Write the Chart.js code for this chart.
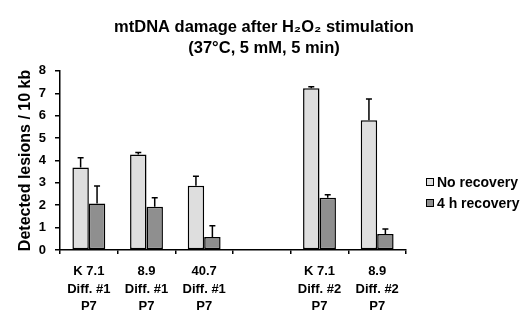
<!DOCTYPE html>
<html><head><meta charset="utf-8">
<script src="https://cdn.jsdelivr.net/npm/chart.js@4"></script>
<style>html,body{margin:0;padding:0;background:#fff}</style>
</head><body>
<canvas id="c" width="528" height="330" style="width:528px;height:330px;display:block"></canvas>
<script>
const categories = [["K 7.1","Diff. #1","P7"],["8.9","Diff. #1","P7"],["40.7","Diff. #1","P7"],"",["K 7.1","Diff. #2","P7"],["8.9","Diff. #2","P7"]];
const noRecovery = [3.69, 4.27, 2.87, null, 7.22, 5.79];
const noRecoveryErr = [0.43, 0.09, 0.42, null, 0.07, 0.96];
const recovery4h = [2.08, 1.93, 0.58, null, 2.33, 0.71];
const recovery4hErr = [0.78, 0.40, 0.50, null, 0.14, 0.23];
const yTicks = [0,1,2,3,4,5,6,7,8];
const seriesLabels = ["No recovery", "4 h recovery"];
const titleLines = ["mtDNA damage after H\u2082O\u2082 stimulation", "(37°C, 5 mM, 5 min)"];
const yTitle = "Detected lesions / 10 kb";

const FONT = "'Liberation Sans', Arial, Helvetica, sans-serif";
const LIGHT = "#dedede", DARK = "#8f8f8f";

const errorBars = {
  id: 'errorBars',
  afterDatasetsDraw(chart) {
    const ctx = chart.ctx, y = chart.scales.y;
    chart.data.datasets.forEach((ds, i) => {
      const meta = chart.getDatasetMeta(i);
      meta.data.forEach((bar, j) => {
        const v = ds.data[j], e = ds.errors[j];
        if (v == null || e == null) return;
        const top = y.getPixelForValue(v + e);
        ctx.save();
        ctx.strokeStyle = '#000'; ctx.lineWidth = 1.5;
        ctx.beginPath();
        ctx.moveTo(bar.x, bar.y); ctx.lineTo(bar.x, top);
        ctx.moveTo(bar.x - 3, top); ctx.lineTo(bar.x + 3, top);
        ctx.stroke();
        ctx.restore();
      });
    });
  }
};

// center the title over the whole canvas, not just the plot + axis region
const centerTitle = {
  id: 'centerTitle',
  afterLayout(chart) {
    const t = chart.titleBlock;
    if (t) { t.left = 0; t.right = chart.width; t.width = chart.width; }
  }
};

const sideLegend = {
  id: 'sideLegend',
  afterDraw(chart) {
    const ctx = chart.ctx, a = chart.chartArea;
    const x = a.right + 20;
    const ys = [182, 203];
    ctx.save();
    ctx.font = "bold 14px " + FONT;
    ctx.textBaseline = 'middle';
    ctx.textAlign = 'left';
    chart.data.datasets.forEach((ds, i) => {
      const yc = ys[i];
      ctx.fillStyle = ds.backgroundColor;
      ctx.fillRect(x, yc - 4, 8, 8);
      ctx.strokeStyle = '#000'; ctx.lineWidth = 1;
      ctx.strokeRect(x + 0.5, yc - 3.5, 7, 7);
      ctx.fillStyle = '#000';
      ctx.fillText(ds.label, x + 11, yc + 1);
    });
    ctx.restore();
  }
};

new Chart(document.getElementById('c'), {
  type: 'bar',
  data: {
    labels: categories,
    datasets: [
      { label: seriesLabels[0], data: noRecovery, errors: noRecoveryErr, backgroundColor: LIGHT, borderColor: '#000', borderWidth: 1.5, borderSkipped: false },
      { label: seriesLabels[1], data: recovery4h, errors: recovery4hErr, backgroundColor: DARK, borderColor: '#000', borderWidth: 1.5, borderSkipped: false }
    ]
  },
  options: {
    responsive: false,
    animation: false,
    devicePixelRatio: 1,
    layout: { padding: { left: 0, right: 122, top: 0, bottom: 0 } },
    datasets: { bar: { categoryPercentage: 0.57, barPercentage: 1 } },
    plugins: {
      legend: { display: false },
      tooltip: { enabled: false },
      title: {
        display: true, text: titleLines, color: '#000',
        font: { family: FONT, size: 16.5, weight: 'bold', lineHeight: 1.33 },
        padding: { top: 16, bottom: 11 }
      }
    },
    scales: {
      x: {
        afterFit(s) { s.height = 80; },
        grid: { offset: true, drawOnChartArea: false, drawTicks: true, tickLength: 4, color: '#000', lineWidth: 1.5 },
        border: { color: '#000', width: 1.5 },
        ticks: { color: '#000', padding: 9, maxRotation: 0, autoSkip: false, font: { family: FONT, size: 13, weight: 'bold', lineHeight: 1.35 } }
      },
      y: {
        min: yTicks[0], max: yTicks[yTicks.length - 1],
        afterFit(s) { s.width = 60; },
        afterBuildTicks(s) { s.ticks = yTicks.map(v => ({ value: v })); },
        grid: { drawOnChartArea: false, drawTicks: true, tickLength: 5, color: '#000', lineWidth: 1.5 },
        border: { color: '#000', width: 1.5 },
        ticks: { color: '#000', padding: 9, font: { family: FONT, size: 13, weight: 'bold' } },
        title: { display: true, text: yTitle, color: '#000', padding: { top: 16, bottom: 0 }, font: { family: FONT, size: 16, weight: 'bold' } }
      }
    }
  },
  plugins: [errorBars, centerTitle, sideLegend]
});
</script>
</body></html>
